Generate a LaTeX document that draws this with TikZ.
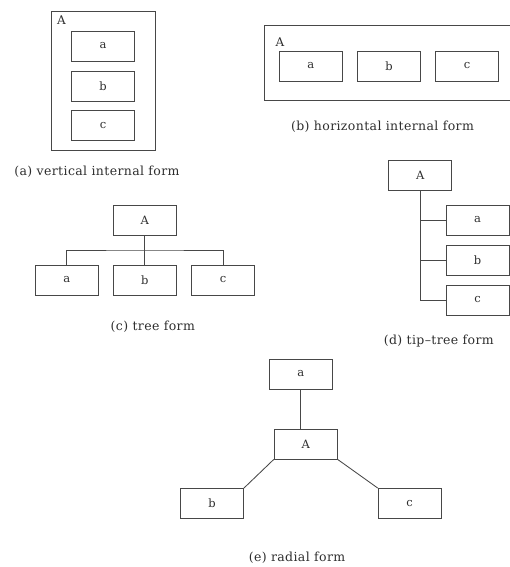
\documentclass[tikz,border=0pt]{standalone}
\usepackage{fontspec}
\setmainfont{DejaVu Serif}
\newfontfamily\capfont[LetterSpace=3]{DejaVu Serif}
\begin{document}
\begin{tikzpicture}[x=1pt,y=-1pt,
  line width=0.85pt,
  ln/.style={draw=black!72},
  box/.style={draw=black!72, minimum width=63pt, minimum height=30pt, inner sep=0pt,
    font=\fontsize{11.5}{13}\selectfont, text=black!82},
  lbl/.style={inner sep=0pt, font=\fontsize{12}{13}\selectfont, text=black!82},
  captxt/.style={inner sep=0pt, font=\capfont\fontsize{12.5}{14}\selectfont, text=black!82}]
\useasboundingbox (0,0) rectangle (510,567);

% (a) vertical internal form
\draw[ln] (51,11) rectangle (155,150.5);
\node[lbl] (aA) at (61.5,20) {A};
\node[box] (aa) at (103,46) {a};
\node[box] (ab) at (103,86) {b};
\node[box] (ac) at (103,125.7) {c};
\node[captxt] (capa) at (97,172) {(a) vertical internal form};

% (b) horizontal internal form
\draw[ln] (512,25.7) -- (264,25.7) -- (264,100) -- (512,100);
\node[lbl] (bA) at (280,42.5) {A};
\node[box] (ba) at (310.8,66) {a};
\node[box] (bb) at (389,66) {b};
\node[box] (bc) at (467,66) {c};
\node[captxt] (capb) at (382.5,127) {(b) horizontal internal form};

% (c) tree form
\node[box] (cA) at (144.8,220) {A};
\node[box] (ca) at (66.8,280) {a};
\node[box] (cb) at (144.8,280) {b};
\node[box] (cc) at (223,280) {c};
\coordinate (cj) at (144.8,250);
\draw[ln] (cA.south) -- (cj);
\draw[ln] (ca.north) |- (cj) -| (cc.north);
\draw[ln] (cj) -- (cb.north);
\node[captxt] (capc) at (152.8,327) {(c) tree form};

% (d) tip-tree form
\node[box] (dA) at (420.3,175.7) {A};
\node[box] (da) at (477.5,220) {a};
\node[box] (db) at (477.5,260) {b};
\node[box] (dc) at (477.5,300) {c};
\draw[ln] (dA.south) |- (dc.west);
\draw[ln] (dA.south |- da.west) -- (da.west);
\draw[ln] (dA.south |- db.west) -- (db.west);
\node[captxt] (capd) at (438.8,341) {(d) tip–tree form};

% (e) radial form
\node[box] (ea) at (300.7,374) {a};
\node[box] (eA) at (305.7,444) {A};
\node[box] (eb) at (212,503.5) {b};
\node[box] (ec) at (409.7,503.5) {c};
\draw[ln] (ea.south) -- (ea.south |- eA.north);
\draw[ln] (eA.south west) -- (eb.north east);
\draw[ln] (eA.south east) -- (ec.north west);
\node[captxt] (cape) at (297,558) {(e) radial form};
\end{tikzpicture}
\end{document}
